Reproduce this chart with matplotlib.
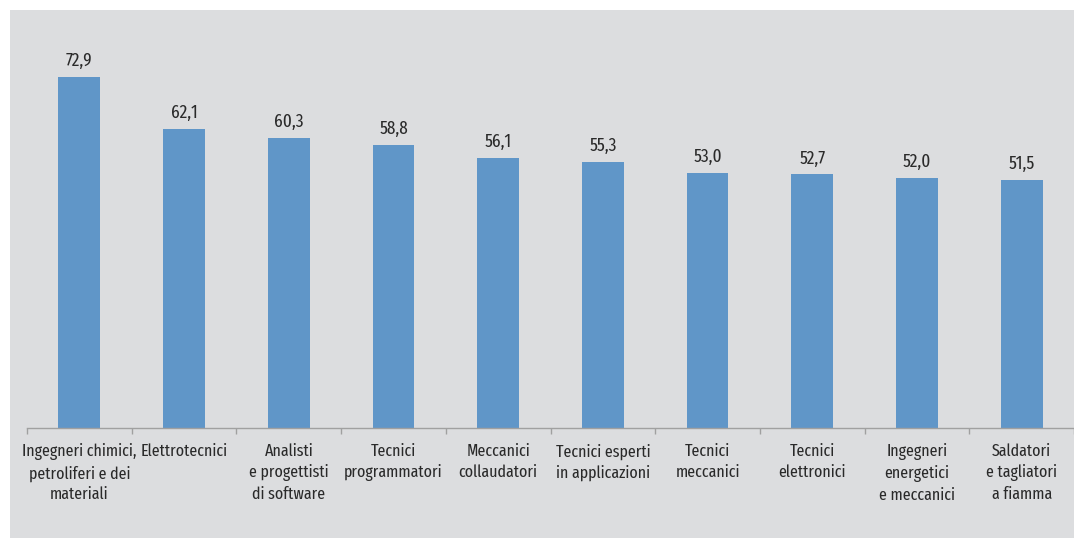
import matplotlib.pyplot as plt
import numpy as np
from matplotlib.patches import Rectangle
from matplotlib import font_manager as fm

# look for a narrow / condensed sans face, like the reference's font
def rank(f):
    s = (f.name + ' ' + f.fname + ' ' + str(f.stretch)).lower()
    if 'serif' in s or 'sans' not in s or 'mono' in s:
        return 9
    if 'semi' in s:
        return 3
    if 'extra' in s or 'narrow' in s:
        return 0
    if 'condensed' in s:
        return 1
    return 9

narrow = [f for f in fm.fontManager.ttflist
          if rank(f) < 9 and f.style == 'normal'
          and f.weight in (400, 'normal', 'regular')]
narrow.sort(key=lambda f: (rank(f), f.fname))
if narrow:
    fp = fm.FontProperties(fname=narrow[0].fname)
else:
    fp = fm.FontProperties(family='Liberation Sans')

categories = ['Ingegneri chimici,\npetroliferi e dei\nmateriali', 'Elettrotecnici',
              'Analisti\ne progettisti\ndi software', 'Tecnici\nprogrammatori',
              'Meccanici\ncollaudatori', 'Tecnici esperti\nin applicazioni',
              'Tecnici\nmeccanici', 'Tecnici\nelettronici',
              'Ingegneri\nenergetici\ne meccanici', 'Saldatori\ne tagliatori\na fiamma']
values = [72.9, 62.1, 60.3, 58.8, 56.1, 55.3, 53.0, 52.7, 52.0, 51.5]

W, H = 1074, 538
fig = plt.figure(figsize=(W / 100, H / 100), dpi=100)
fig.patch.set_facecolor('white')
bg = '#dcdddf'
fig.patches.append(Rectangle((10 / W, 0), 1 - 10 / W, 1 - 10 / H,
                             transform=fig.transFigure, facecolor=bg,
                             edgecolor='none', zorder=-10))

ax = fig.add_axes([27 / W, 110 / H, 1 - 27 / W, 418 / H])
ax.set_facecolor('none')
x = np.arange(len(values))
bars = ax.bar(x, values, width=0.4, color='#6096c8', zorder=2)
for xi, v in zip(x, values):
    ax.annotate(f'{v:.1f}'.replace('.', ','), (xi, v), xytext=(0, 5),
                textcoords='offset points', ha='center', va='bottom',
                fontproperties=fp, fontsize=13.5, color='#2a2a2a')

ax.set_xlim(-0.5, len(values) - 0.5)
ax.set_ylim(0, 418 / 4.815)
for s in ['top', 'right', 'left']:
    ax.spines[s].set_visible(False)
ax.spines['bottom'].set_color('#a0a0a0')
ax.spines['bottom'].set_linewidth(1)
ax.set_yticks([])
ax.set_xticks(x)
ax.set_xticklabels(categories, fontproperties=fp, fontsize=12.5,
                   color='#2a2a2a', linespacing=1.38)
ax.tick_params(axis='x', which='major', length=0, pad=11)
ax.set_xticks(np.arange(-0.5, len(values), 1), minor=True)
ax.tick_params(axis='x', which='minor', length=4, color='#a0a0a0', width=1)

fig.savefig('out.png', dpi=100)
